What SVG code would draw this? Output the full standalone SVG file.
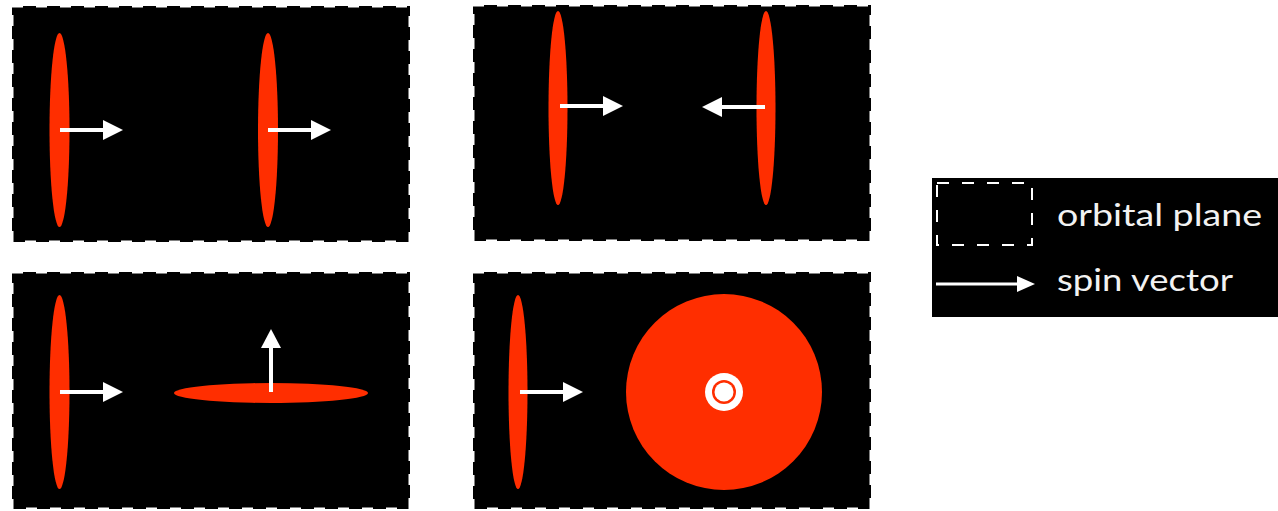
<svg xmlns="http://www.w3.org/2000/svg" width="1278" height="511" viewBox="0 0 1278 511">
<style>
.panel{fill:#000;stroke:#fff;stroke-width:3;stroke-dasharray:11 13}
.disk{fill:#ff2e00}
.shaft{stroke:#fff;stroke-width:4;fill:none}
.head{fill:#fff}
.lbl{fill:#f2f2f2;font-family:"Lato","Liberation Sans",sans-serif;font-size:31px;font-weight:400}
</style>
<rect width="1278" height="511" fill="#fff"/>
<g id="panel1">
<rect class="panel" x="12" y="6" width="398" height="236"/>
<ellipse class="disk" cx="59.5" cy="130" rx="10" ry="97"/>
<ellipse class="disk" cx="268" cy="130" rx="10" ry="97"/>
</g>
<g id="panel2">
<rect class="panel" x="473" y="5" width="398" height="236"/>
<ellipse class="disk" cx="558" cy="108" rx="9.5" ry="97"/>
<ellipse class="disk" cx="766" cy="108" rx="9.5" ry="97"/>
</g>
<g id="panel3">
<rect class="panel" x="12" y="272" width="398" height="237"/>
<ellipse class="disk" cx="59.5" cy="392" rx="10" ry="97"/>
<ellipse class="disk" cx="271" cy="393" rx="97" ry="10"/>
</g>
<g id="panel4">
<rect class="panel" x="473" y="272" width="398" height="237"/>
<ellipse class="disk" cx="518" cy="392" rx="9.5" ry="97"/>
<circle class="disk" cx="724" cy="392" r="98"/>
<circle cx="724" cy="392" r="19" fill="#fff"/>
<circle cx="724" cy="392" r="12" fill="#ff2e00"/>
<circle cx="724" cy="392" r="9.5" fill="#fff"/>
</g>
<g id="connectors">
<line class="shaft" x1="60" y1="130" x2="105" y2="130"/>
<polygon class="head" points="103,120 123,130 103,140"/>
<line class="shaft" x1="268" y1="130" x2="313" y2="130"/>
<polygon class="head" points="311,120 331,130 311,140"/>
<line class="shaft" x1="560" y1="106" x2="605" y2="106"/>
<polygon class="head" points="603,96 623,106 603,116"/>
<line class="shaft" x1="765" y1="107" x2="720" y2="107"/>
<polygon class="head" points="722,97 702,107 722,117"/>
<line class="shaft" x1="60" y1="392" x2="105" y2="392"/>
<polygon class="head" points="103,382 123,392 103,402"/>
<line class="shaft" x1="271" y1="392" x2="271" y2="346"/>
<polygon class="head" points="261,348 271,329 281,348"/>
<line class="shaft" x1="520" y1="392" x2="565" y2="392"/>
<polygon class="head" points="563,382 583,392 563,402"/>
</g>
<g id="legend">
<rect x="932" y="178" width="346" height="139" fill="#000"/>
<rect x="937" y="183" width="95" height="62" fill="none" stroke="#fff" stroke-width="2" stroke-dasharray="12 13"/>
<text class="lbl" x="1057" y="226" textLength="205" lengthAdjust="spacingAndGlyphs">orbital plane</text>
<line x1="936" y1="284" x2="1020" y2="284" stroke="#fff" stroke-width="3"/>
<polygon class="head" points="1017,276 1035,284 1017,292"/>
<text class="lbl" x="1057" y="291" textLength="176" lengthAdjust="spacingAndGlyphs">spin vector</text>
</g>
</svg>
